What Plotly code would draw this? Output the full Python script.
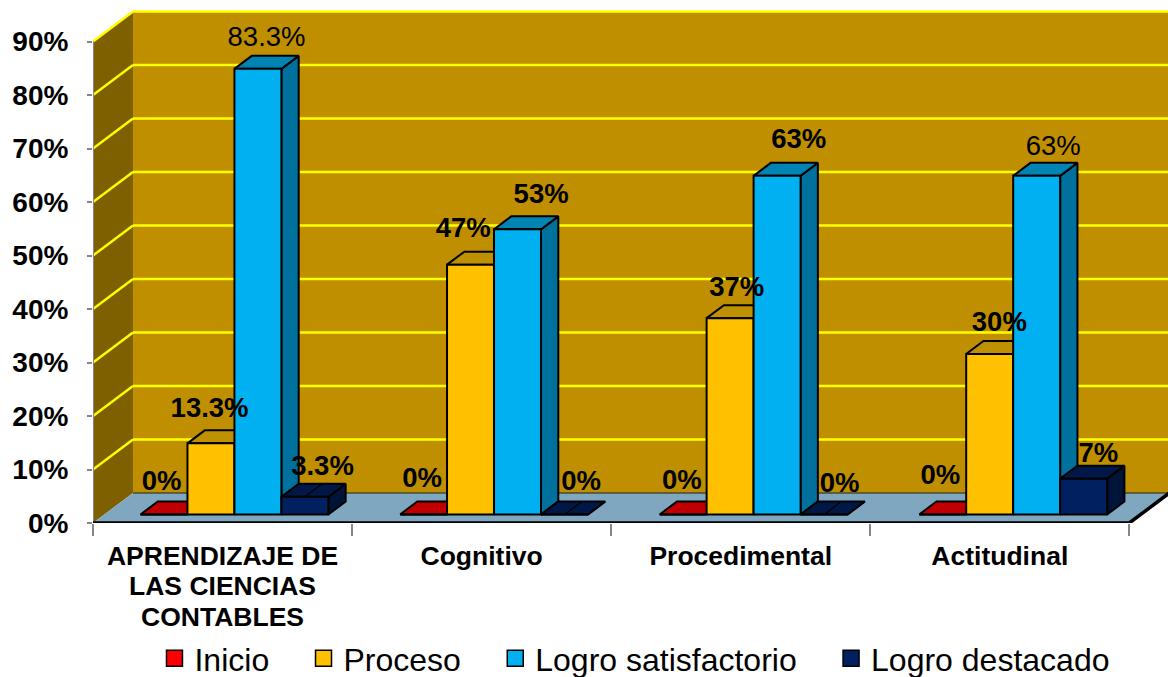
import plotly.graph_objects as go

# ---------- data ----------
categories = ["APRENDIZAJE DE<br>LAS CIENCIAS<br>CONTABLES", "Cognitivo", "Procedimental", "Actitudinal"]
series_names = ["Inicio", "Proceso", "Logro satisfactorio", "Logro destacado"]
inicio = [0, 0, 0, 0]
proceso = [13.3, 46.7, 36.7, 30]
logro_satisfactorio = [83.3, 53.3, 63.3, 63.3]
logro_destacado = [3.3, 0, 0, 6.7]
label_inicio = ["0%", "0%", "0%", "0%"]
label_proceso = ["13.3%", "47%", "37%", "30%"]
label_satisfactorio = ["83.3%", "53%", "63%", "63%"]
label_destacado = ["3.3%", "0%", "0%", "7%"]
y_ticks = [0, 10, 20, 30, 40, 50, 60, 70, 80, 90]
y_tick_labels = ["0%", "10%", "20%", "30%", "40%", "50%", "60%", "70%", "80%", "90%"]

# ---------- style ----------
front_colors = ["#FF0000", "#FFC000", "#00B0F0", "#002060"]
top_colors = ["#C00000", "#BF9000", "#0084B4", "#001848"]
side_colors = ["#A00000", "#9F7800", "#00709C", "#001338"]
regular_labels = {(0, 2), (3, 2)}
# label offsets in pixels, (group, series) order
nudge_x = [[-11, -10, 0, 9], [-10, -16, 15, 8], [-10, -2, 13, 7], [-11, 1, 8, 6]]
nudge_y = [[-27, -29, -26, -25], [-30, -31, -29, -27], [-28, -25, -31, -25], [-33, -25.5, -24, -20]]
LABEL_SHIFT_PX = 2.5

W, H = 1168, 677
LEFT, BASE, TOP = 92.5, 523, 6
PX_X = 259.2           # pixels per category on the axis
PX_Y = 5.35            # pixels per percent
xpx = lambda p: p / PX_X
ypx = lambda p: p / PX_Y
WALL_DX, WALL_DY = xpx(40), ypx(30)
BAR_DX, BAR_DY = xpx(17.3), ypx(13)
BAR_W = xpx(47)
BAR_START = xpx(47.5)
BAR_STEP = xpx(259.7)
BAR_LIFT = ypx(8.5)
XMAX = (W - LEFT) / PX_X
YMAX = (BASE - TOP) / PX_Y
n_groups = len(categories)

fig = go.Figure()


def poly(pts, fill, line="rgba(0,0,0,0)", width=0):
    d = "M" + "L".join(f"{x},{y}" for x, y in pts) + "Z"
    return dict(type="path", path=d, xref="x", yref="y", fillcolor=fill,
                line=dict(color=line, width=width), layer="below")


def seg(x0, y0, x1, y1, color, width):
    return dict(type="line", x0=x0, y0=y0, x1=x1, y1=y1, xref="x", yref="y",
                line=dict(color=color, width=width), layer="below")


shapes = [
    poly([(WALL_DX, WALL_DY), (XMAX + 1, WALL_DY), (XMAX + 1, 90 + WALL_DY), (WALL_DX, 90 + WALL_DY)], "#BF8F00"),
    poly([(0, 0), (WALL_DX, WALL_DY), (WALL_DX, 90 + WALL_DY), (0, 90)], "#7F6000"),
    poly([(0, 0), (WALL_DX, WALL_DY), (n_groups + WALL_DX, WALL_DY), (n_groups, 0)], "#7FA8C0"),
]
for t in y_ticks[1:]:
    shapes.append(seg(0, t, WALL_DX, t + WALL_DY, "#FFFF00", 2.5))
    shapes.append(seg(WALL_DX, t + WALL_DY, XMAX + 1, t + WALL_DY, "#FFFF00", 2.5))
shapes.append(seg(WALL_DX, WALL_DY, XMAX + 1, WALL_DY, "#4A4A30", 1.5))
shapes.append(seg(n_groups, 0, n_groups + WALL_DX, WALL_DY, "#000000", 3.5))
fig.update_layout(shapes=shapes)

series_values = [inicio, proceso, logro_satisfactorio, logro_destacado]
series_labels = [label_inicio, label_proceso, label_satisfactorio, label_destacado]


def face_trace(xs, ys, color):
    return go.Scatter(x=xs, y=ys, mode="lines", fill="toself", fillcolor=color,
                      line=dict(color="#000000", width=2), hoverinfo="skip", showlegend=False)


for s, values in enumerate(series_values):
    side_x, side_y, top_x, top_y, front_x, front_y = [], [], [], [], [], []
    for g, v in enumerate(values):
        x0 = g * BAR_STEP + BAR_START + s * BAR_W
        x1 = x0 + BAR_W
        y0 = BAR_LIFT
        y1 = BAR_LIFT + v
        side_x += [x1, x1 + BAR_DX, x1 + BAR_DX, x1, x1, None]
        side_y += [y0, y0 + BAR_DY, y1 + BAR_DY, y1, y0, None]
        top_x += [x0, x1, x1 + BAR_DX, x0 + BAR_DX, x0, None]
        top_y += [y1, y1, y1 + BAR_DY, y1 + BAR_DY, y1, None]
        front_x += [x0, x1, x1, x0, x0, None]
        front_y += [y0, y0, y1, y1, y0, None]
    fig.add_trace(face_trace(side_x, side_y, side_colors[s]))
    fig.add_trace(face_trace(top_x, top_y, top_colors[s]))
    fig.add_trace(face_trace(front_x, front_y, front_colors[s]))
    if s == 3:
        mid_x, mid_y = [], []
        for g, v in enumerate(values):
            if v < 5:
                xm = g * BAR_STEP + BAR_START + (s + 0.5) * BAR_W
                mid_x += [xm, xm + BAR_DX, None]
                mid_y += [BAR_LIFT + v, BAR_LIFT + v + BAR_DY, None]
        fig.add_trace(go.Scatter(x=mid_x, y=mid_y, mode="lines", line=dict(color="#000000", width=1.2),
                                 hoverinfo="skip", showlegend=False))

# axis lines
fig.add_trace(go.Scatter(x=[0, 0], y=[0, 90], mode="lines", cliponaxis=False,
                         line=dict(color="#868686", width=2), hoverinfo="skip", showlegend=False))
fig.add_trace(go.Scatter(x=[0, n_groups], y=[0, 0], mode="lines", cliponaxis=False,
                         line=dict(color="#000000", width=3.5), hoverinfo="skip", showlegend=False))

# data labels
lx, ly, lt = [], [], []
for s, values in enumerate(series_values):
    for g, v in enumerate(values):
        lx.append(g * BAR_STEP + BAR_START + (s + 0.5) * BAR_W + BAR_DX / 2 + xpx(nudge_x[g][s]))
        ly.append(BAR_LIFT + v + BAR_DY / 2 - ypx(nudge_y[g][s] + LABEL_SHIFT_PX))
        text = series_labels[s][g]
        lt.append(text if (g, s) in regular_labels else f"<b>{text}</b>")
fig.add_trace(go.Scatter(x=lx, y=ly, text=lt, mode="text", textposition="middle center", cliponaxis=False,
                         textfont=dict(family="Liberation Sans, Arial", size=27.5, color="#000000"),
                         hoverinfo="skip", showlegend=False))

# legend entries
pad = "\u00a0" * 3 + "\u200a"
for s, name in enumerate(series_names):
    fig.add_trace(go.Scatter(x=[None], y=[None], mode="markers", name=name + (pad if s < 3 else ""),
                             marker=dict(symbol="square", size=16, color=front_colors[s],
                                         line=dict(color="#000000", width=1.5))))


def cat_text(c):
    # tick font size sets the line pitch; the span sets the glyph size
    return "<br>".join(f'<span style="font-size:26.5px"><b>{part}</b></span>' for part in c.split("<br>"))


fig.update_layout(
    width=W, height=H, autosize=False,
    margin=dict(l=LEFT, r=0, t=TOP, b=H - BASE, pad=0, autoexpand=False),
    paper_bgcolor="#FFFFFF", plot_bgcolor="rgba(0,0,0,0)",
    font=dict(family="Liberation Sans, Arial", color="#000000"),
    xaxis=dict(range=[0, XMAX], showgrid=False, zeroline=False, showline=False,
               tickmode="array", tickvals=[i + 0.5 for i in range(n_groups)], ticktext=[cat_text(c) for c in categories],
               tickangle=0, ticks="", tickfont=dict(size=23.5), ticklabelstandoff=17,
               minor=dict(tickmode="array", tickvals=list(range(n_groups + 1)), ticks="outside",
                          ticklen=12, tickcolor="#868686", tickwidth=1.5, showgrid=False)),
    yaxis=dict(range=[0, YMAX], showgrid=False, zeroline=False, showline=False,
               tickmode="array", tickvals=y_ticks, ticktext=[f"<b>{t}</b>" for t in y_tick_labels],
               ticks="outside", ticklen=5, tickcolor="#868686", tickwidth=1.5,
               tickfont=dict(size=28), ticklabelstandoff=13),
    legend=dict(orientation="h", x=(154 - LEFT) / (W - LEFT), xanchor="left",
                y=(BASE - 658.5) / (BASE - TOP), yanchor="middle",
                font=dict(size=32), bgcolor="rgba(0,0,0,0)", itemclick=False, itemdoubleclick=False),
    showlegend=True,
)

fig.write_html("out.html", config={"displayModeBar": False}, post_script="document.body.style.margin='0';")
